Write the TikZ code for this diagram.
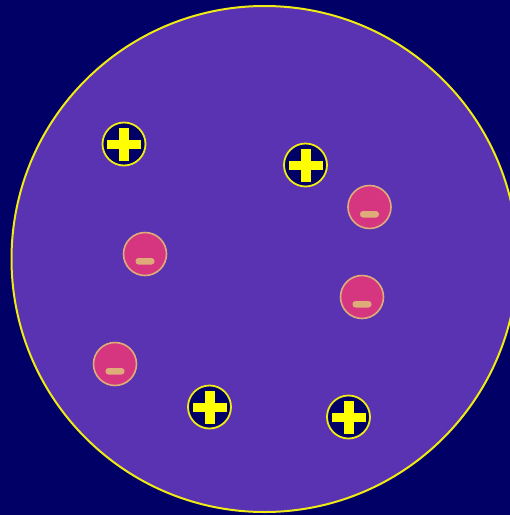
\documentclass[tikz,border=0pt]{standalone}
\definecolor{bgnavy}{RGB}{0,0,102}
\definecolor{cellpurple}{RGB}{89,51,178}
\definecolor{rimyellow}{RGB}{240,235,20}
\definecolor{pluscol}{RGB}{255,255,0}
\definecolor{pinkfill}{RGB}{214,53,128}
\definecolor{tanline}{RGB}{222,172,120}
\begin{document}
\begin{tikzpicture}[x=1pt,y=-1pt,
  poscharge/.style={circle,draw=rimyellow,line width=1.8pt,fill=bgnavy,minimum size=43pt,inner sep=0pt},
  negcharge/.style={circle,draw=tanline,line width=1.6pt,fill=pinkfill,minimum size=43pt,inner sep=0pt}]
\fill[bgnavy] (0,0) rectangle (510,515);
\useasboundingbox (0,0) rectangle (510,515);
\node[circle,draw=rimyellow,line width=2pt,fill=cellpurple,minimum size=506pt,inner sep=0pt] (cell) at (264.5,259) {};
\foreach \n/\px/\py in {p1/124/144, p2/305.5/165, p3/209.5/407, p4/348.5/417} {
  \node[poscharge] (\n) at (\px,\py) {};
  \fill[pluscol] (\px-17,\py-4.5) rectangle (\px+17,\py+4.5);
  \fill[pluscol] (\px-5,\py-16.5) rectangle (\px+5,\py+16.5);
}
\foreach \n/\px/\py in {m1/145/254, m2/369.5/207, m3/362/297, m4/115/364} {
  \node[negcharge] (\n) at (\px,\py) {};
  \fill[tanline,rounded corners=3pt] (\px-9.5,\py+4) rectangle (\px+9.5,\py+10.5);
}
\end{tikzpicture}
\end{document}
